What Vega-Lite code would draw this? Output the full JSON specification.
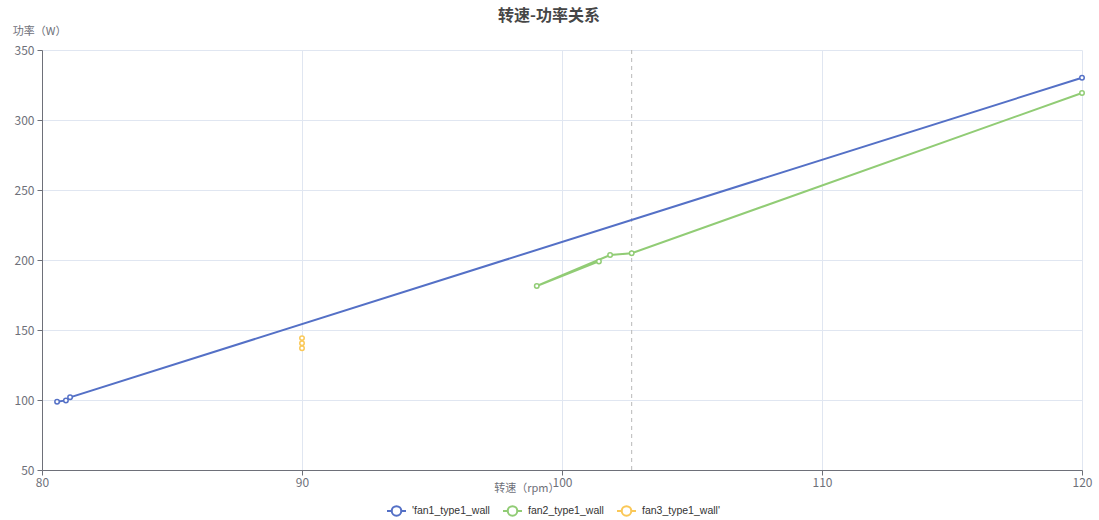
{
  "$schema": "https://vega.github.io/schema/vega-lite/v6.json",
  "width": 1040,
  "height": 420,
  "autosize": "none",
  "padding": {"left": 42, "top": 50, "right": 17, "bottom": 50},
  "background": "white",
  "title": {"text": "转速-功率关系", "anchor": "middle", "dx": -13, "offset": 1, "fontSize": 16, "fontWeight": "bold", "color": "#464646", "font": "Noto Sans CJK SC"},
  "config": {"view": {"stroke": null}, "font": "Noto Sans CJK SC"},
  "datasets": {
    "pts": [
      {"series": "'fan1_type1_wall", "rpm": 80.58, "power": 98.7, "ord": 1},
      {"series": "'fan1_type1_wall", "rpm": 80.92, "power": 99.7, "ord": 2},
      {"series": "'fan1_type1_wall", "rpm": 81.08, "power": 101.9, "ord": 3},
      {"series": "'fan1_type1_wall", "rpm": 120, "power": 330.2, "ord": 4},
      {"series": "fan2_type1_wall", "rpm": 101.42, "power": 199.0, "ord": 1},
      {"series": "fan2_type1_wall", "rpm": 99.03, "power": 181.4, "ord": 2},
      {"series": "fan2_type1_wall", "rpm": 101.85, "power": 203.5, "ord": 3},
      {"series": "fan2_type1_wall", "rpm": 102.68, "power": 204.8, "ord": 4},
      {"series": "fan2_type1_wall", "rpm": 120, "power": 319.3, "ord": 5},
      {"series": "fan3_type1_wall'", "rpm": 90, "power": 144.2, "ord": 1},
      {"series": "fan3_type1_wall'", "rpm": 90, "power": 140.6, "ord": 2},
      {"series": "fan3_type1_wall'", "rpm": 90, "power": 137.0, "ord": 3}
    ],
    "pointer": [{"rpm": 102.68}]
  },
  "layer": [
    {
      "data": {"name": "pointer"},
      "mark": {"type": "rule", "strokeDash": [4, 4], "color": "#b8b8b8", "strokeWidth": 1},
      "encoding": {
        "x": {"field": "rpm", "type": "quantitative", "scale": {"domain": [80, 120], "nice": false, "zero": false}}
      }
    },
    {
      "data": {"name": "pts"},
      "mark": {"type": "line", "strokeWidth": 2, "point": {"filled": false, "fill": "white", "size": 20, "strokeWidth": 1.5}},
      "encoding": {
        "x": {
          "field": "rpm", "type": "quantitative",
          "scale": {"domain": [80, 120], "nice": false, "zero": false},
          "axis": {
            "values": [80, 90, 100, 110, 120], "grid": true, "gridColor": "#E0E6F1",
            "domainColor": "#6E7079", "tickColor": "#6E7079", "tickSize": 5,
            "labelColor": "#6E7079", "labelFontSize": 12, "labelPadding": 2, "labelFlush": false,
            "title": "转速（rpm）", "titleColor": "#6E7079", "titleFontSize": 11, "titleFontWeight": "normal",
            "titleX": 517, "titleY": 18, "titleAlign": "right", "titleBaseline": "middle"
          }
        },
        "y": {
          "field": "power", "type": "quantitative",
          "scale": {"domain": [50, 350], "nice": false, "zero": false},
          "axis": {
            "values": [50, 100, 150, 200, 250, 300, 350], "grid": true, "gridColor": "#E0E6F1",
            "domainColor": "#6E7079", "tickColor": "#6E7079", "tickSize": 5,
            "labelColor": "#6E7079", "labelFontSize": 12, "labelPadding": 3, "labelFlush": false,
            "title": "功率（W）", "titleColor": "#6E7079", "titleFontSize": 11, "titleFontWeight": "normal",
            "titleAngle": 0, "titleX": 24, "titleY": -19, "titleAlign": "right", "titleBaseline": "middle"
          }
        },
        "color": {
          "field": "series", "type": "nominal",
          "scale": {"domain": ["'fan1_type1_wall", "fan2_type1_wall", "fan3_type1_wall'"], "range": ["#5470C6", "#91CC75", "#FAC858"]},
          "legend": {
            "orient": "none", "legendX": 344, "legendY": 450, "direction": "horizontal", "title": null,
            "symbolType": "M-1,0H-0.5M0.5,0H1M-0.5,0A0.5,0.5 0 1,1 0.5,0A0.5,0.5 0 1,1 -0.5,0",
            "symbolSize": 361, "symbolStrokeWidth": 2, "symbolFillColor": "white",
            "labelFont": "Liberation Sans", "labelFontSize": 10.5, "labelColor": "#333333", "columnPadding": 9, "labelOffset": 5
          }
        },
        "order": {"field": "ord", "type": "quantitative"}
      }
    }
  ]
}
